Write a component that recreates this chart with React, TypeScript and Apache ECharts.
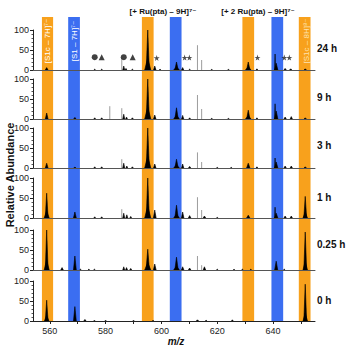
import React, { useEffect, useRef } from "react";
import * as echarts from "echarts";

// ---- data ----
const xMin = 554;
const xMax = 655;
const xTickValues = [560, 570, 580, 590, 600, 610, 620, 630, 640, 650];
const xLabelValues = [560, 580, 600, 620, 640];
const panelLabels = ["24 h", "9 h", "3 h", "1 h", "0.25 h", "0 h"];

// bands: [start m/z, end m/z, colour index 0=orange 1=blue]
const bandRanges = [
  [557.2, 561.2, 0],
  [566.6, 570.8, 1],
  [593.0, 597.2, 0],
  [603.0, 607.2, 1],
  [629.0, 633.2, 0],
  [639.4, 643.6, 1],
  [649.2, 653.4, 0],
];

// black peaks: [m/z, relative abundance, half width]
const peaks24h = [
  [558.9, 6, 0.5], [576.1, 2, 0.3], [578.6, 2, 0.3], [586.5, 10, 0.35], [587.3, 4, 0.3],
  [589.6, 2, 0.3], [595.1, 100, 0.55], [595.1, 30, 1.1], [597.6, 10, 0.45], [599.5, 2, 0.3],
  [605.4, 20, 0.6], [605.4, 8, 1.0], [607.6, 6, 0.4], [610.1, 2, 0.3], [618.0, 1.5, 0.3],
  [624.0, 1.5, 0.3], [631.1, 20, 0.6], [631.1, 8, 1.0], [634.2, 3, 0.3], [641.1, 17, 0.6],
  [640.7, 40, 0.15], [644.3, 4, 0.4], [646.3, 3, 0.4], [651.5, 3, 0.4],
];
const peaks9h = [
  [558.9, 15, 0.5], [569.0, 4, 0.4], [576.1, 3, 0.3], [578.6, 3, 0.3], [586.5, 12, 0.35],
  [587.5, 5, 0.3], [589.6, 3, 0.3], [595.1, 100, 0.55], [595.1, 30, 1.1], [597.6, 10, 0.45],
  [605.4, 28, 0.6], [605.4, 10, 1.0], [607.6, 9, 0.4], [610.1, 3, 0.3], [618.0, 1.5, 0.3],
  [624.0, 1.5, 0.3], [631.1, 22, 0.6], [631.1, 8, 1.0], [634.2, 3, 0.3], [641.1, 20, 0.6],
  [640.7, 38, 0.15], [644.3, 5, 0.4], [646.5, 6, 0.4], [651.5, 3, 0.4],
];
const peaks3h = [
  [558.9, 12, 0.5], [569.0, 2, 0.4], [576.1, 3, 0.3], [578.6, 3, 0.3], [586.5, 12, 0.35],
  [587.6, 5, 0.3], [589.6, 3, 0.3], [595.1, 100, 0.55], [595.1, 30, 1.1], [597.6, 10, 0.45],
  [605.4, 22, 0.6], [605.4, 8, 1.0], [607.6, 10, 0.4], [610.1, 4, 0.4], [620.0, 1.5, 0.3],
  [625.0, 1.5, 0.3], [631.1, 12, 0.6], [634.2, 3, 0.3], [641.1, 15, 0.6], [640.7, 25, 0.15],
  [644.3, 5, 0.4], [646.5, 5, 0.4], [651.5, 3, 0.4],
];
const peaks1h = [
  [558.9, 62, 0.5], [558.9, 18, 0.9], [569.0, 15, 0.5], [576.1, 3, 0.3], [578.6, 3, 0.3],
  [586.5, 12, 0.35], [587.6, 8, 0.35], [589.0, 4, 0.3], [595.1, 100, 0.55], [595.1, 30, 1.1],
  [597.6, 20, 0.5], [605.4, 32, 0.6], [605.4, 10, 1.0], [607.6, 15, 0.45], [610.1, 6, 0.45],
  [615.4, 5, 0.45], [620.0, 1.5, 0.3], [631.1, 7, 0.6], [641.1, 12, 0.6], [640.7, 27, 0.15],
  [644.3, 5, 0.4], [646.5, 5, 0.4], [651.5, 54, 0.5], [651.5, 15, 0.8],
];
const peaks025h = [
  [558.9, 100, 0.5], [558.9, 25, 0.9], [564.4, 6, 0.45], [569.0, 35, 0.5], [571.0, 2, 0.3],
  [574.0, 2, 0.3], [576.0, 2, 0.3], [586.5, 8, 0.35], [587.5, 6, 0.35], [589.0, 4, 0.35],
  [595.1, 52, 0.6], [595.1, 18, 1.1], [597.6, 15, 0.5], [605.4, 32, 0.6], [605.4, 10, 1.0],
  [607.6, 8, 0.45], [610.1, 5, 0.45], [615.4, 8, 0.45], [620.0, 2, 0.3], [626.0, 2, 0.3],
  [629.0, 2, 0.3], [632.0, 2, 0.3], [641.1, 22, 0.55], [644.0, 2, 0.3], [651.5, 95, 0.5],
  [651.5, 22, 0.8],
];
const peaks0h = [
  [558.9, 52, 0.5], [558.9, 14, 0.8], [569.0, 36, 0.5], [572.6, 4, 0.4], [576.0, 1, 0.3],
  [580.0, 1, 0.3], [590.0, 1, 0.3], [597.0, 1, 0.3], [612.9, 3, 0.4], [616.0, 2, 0.3],
  [625.4, 3, 0.3], [651.5, 92, 0.5], [651.5, 20, 0.8],
];

// grey sticks: [m/z, relative abundance]
const grey24h = [[585.8, 30], [612.9, 62], [614.4, 25]];
const grey9h = [[581.5, 32], [585.8, 27], [612.9, 60], [614.4, 25]];
const grey3h = [[585.8, 22], [612.9, 39], [614.4, 15]];
const grey1h = [[585.8, 22], [612.9, 52], [614.4, 20]];
const grey025h = [[612.9, 35], [614.4, 12]];
const grey0h = [];

// markers in the 24 h panel
const circleMarks = [[576.1, 32], [586.5, 32]];
const triangleMarks = [[578.6, 32], [589.7, 32]];
const starMarks = [[598.3, 30], [608.3, 31], [610.0, 31], [634.4, 31], [644.0, 31], [645.8, 31]];

const blackPeaks = [peaks24h, peaks9h, peaks3h, peaks1h, peaks025h, peaks0h];
const greyPeaks = [grey24h, grey9h, grey3h, grey1h, grey025h, grey0h];

// ---- layout ----
const panelTops = [30, 79, 128, 178, 230, 281];
const panelHeight = 40;
const gridLeft = 33;
const gridRight = 32;
const labelYs = [48, 97, 145, 197, 244, 300];
const ORANGE = "#F8A11C";
const BLUE = "#3B6EF1";
const FONT = "Liberation Sans, Arial, DejaVu Sans, sans-serif";

export default function App() {
  const ref = useRef<HTMLDivElement>(null);

  useEffect(() => {
    if (!ref.current) return;
    const chart = echarts.init(ref.current, undefined, { renderer: "svg" });

    const grids: any[] = [];
    const xAxes: any[] = [];
    const yAxes: any[] = [];
    const series: any[] = [];

    // band grid (index 0)
    grids.push({ left: gridLeft, right: gridRight, top: 17, height: 305 });
    xAxes.push({ gridIndex: 0, type: "value", min: xMin, max: xMax, show: false });
    yAxes.push({ gridIndex: 0, type: "value", min: 0, max: 1, show: false });
    series.push({
      type: "custom",
      xAxisIndex: 0,
      yAxisIndex: 0,
      z: 1,
      silent: true,
      data: bandRanges,
      renderItem: (params: any, api: any) => {
        const p0 = api.coord([api.value(0), 1]);
        const p1 = api.coord([api.value(1), 0]);
        return {
          type: "rect",
          shape: { x: p0[0], y: p0[1], width: p1[0] - p0[0], height: p1[1] - p0[1] },
          style: { fill: api.value(2) === 0 ? ORANGE : BLUE },
        };
      },
    });

    panelTops.forEach((top, i) => {
      const gi = i + 1;
      const last = i === panelTops.length - 1;
      grids.push({ left: gridLeft, right: gridRight, top, height: panelHeight });
      xAxes.push({
        gridIndex: gi,
        type: "value",
        min: xMin,
        max: xMax,
        z: 10,
        axisLine: { show: true, lineStyle: { color: last ? "#222" : "#555", width: 1 } },
        axisTick: last
          ? { show: true, customValues: xTickValues, length: 3, lineStyle: { color: "#222" } }
          : { show: false },
        axisLabel: last
          ? { show: true, customValues: xLabelValues, fontSize: 9, color: "#222", margin: 5, fontFamily: FONT }
          : { show: false },
        splitLine: { show: false },
      });
      yAxes.push({
        gridIndex: gi,
        type: "value",
        min: 0,
        max: 100,
        interval: 50,
        z: 10,
        axisLine: { show: true, lineStyle: { color: "#222", width: 1 } },
        axisTick: { show: true, length: 3, lineStyle: { color: "#222" } },
        minorTick: { show: true, splitNumber: 5, length: 1.5, lineStyle: { color: "#555" } },
        axisLabel: { fontSize: 9, color: "#222", margin: 4, fontFamily: FONT },
        splitLine: { show: false },
      });
      series.push({
        type: "custom",
        xAxisIndex: gi,
        yAxisIndex: gi,
        z: 4,
        silent: true,
        data: greyPeaks[i],
        renderItem: (params: any, api: any) => {
          const p0 = api.coord([api.value(0), 0]);
          const p1 = api.coord([api.value(0), api.value(1)]);
          return {
            type: "line",
            shape: { x1: p0[0], y1: p0[1], x2: p1[0], y2: p1[1] },
            style: { stroke: "#9c9c9c", lineWidth: 1 },
          };
        },
      });
      series.push({
        type: "custom",
        xAxisIndex: gi,
        yAxisIndex: gi,
        z: 5,
        silent: true,
        data: blackPeaks[i],
        renderItem: (params: any, api: any) => {
          const c = api.value(0);
          const h = api.value(1);
          const w = api.value(2);
          const a = api.coord([c - w, 0]);
          const b = api.coord([c, h]);
          const d = api.coord([c + w, 0]);
          return {
            type: "polygon",
            shape: { points: [a, b, d] },
            style: { fill: "#000", stroke: "#000", lineWidth: 0.6 },
          };
        },
      });
    });

    // markers on the 24 h panel
    series.push({
      type: "scatter",
      xAxisIndex: 1,
      yAxisIndex: 1,
      z: 6,
      symbol: "circle",
      symbolSize: 6,
      itemStyle: { color: "#111" },
      data: circleMarks,
    });
    series.push({
      type: "scatter",
      xAxisIndex: 1,
      yAxisIndex: 1,
      z: 6,
      symbol: "triangle",
      symbolSize: 6,
      itemStyle: { color: "#111" },
      data: triangleMarks,
    });
    series.push({
      type: "scatter",
      xAxisIndex: 1,
      yAxisIndex: 1,
      z: 6,
      symbol:
        "path://M50,0 L61,35 L98,35 L68,57 L79,91 L50,70 L21,91 L32,57 L2,35 L39,35 Z",
      symbolSize: 6,
      itemStyle: { color: "#222" },
      data: starMarks,
    });

    const graphic: any[] = [];
    const txt = (text: string, x: number, y: number, opts: any = {}) => ({
      type: "text",
      x,
      y,
      rotation: opts.rotation || 0,
      z: 20,
      style: {
        text,
        fill: opts.fill || "#111",
        fontSize: opts.fontSize || 9,
        fontWeight: opts.fontWeight || "bold",
        fontStyle: opts.fontStyle || "normal",
        fontFamily: FONT,
        textAlign: opts.align || "center",
        textVerticalAlign: "middle",
        opacity: opts.opacity == null ? 1 : opts.opacity,
      },
    });

    graphic.push(txt("[+ Ru(pta) – 9H]⁷⁻", 163, 11, { fontSize: 8 }));
    graphic.push(txt("[+ 2 Ru(pta) – 9H]⁷⁻", 258, 11, { fontSize: 8 }));
    panelLabels.forEach((l, i) => graphic.push(txt(l, 317, labelYs[i], { fontSize: 10, align: "left" })));
    graphic.push(txt("Relative Abundance", 10, 175, { fontSize: 11, rotation: Math.PI / 2 }));
    graphic.push(txt("m/z", 176, 341, { fontSize: 10, fontStyle: "italic" }));
    graphic.push(txt("[S1c – 7H]⁷⁻", 47.5, 41, { fontSize: 8, fontWeight: "normal", fill: "#fff", rotation: Math.PI / 2 }));
    graphic.push(txt("[S1 – 7H]⁷⁻", 74.5, 41, { fontSize: 8, fontWeight: "normal", fill: "#fff", rotation: Math.PI / 2 }));
    graphic.push(txt("[S1c – 8H]⁸⁻", 306, 41, { fontSize: 8, fontWeight: "normal", fill: "#fde3b0", rotation: Math.PI / 2 }));

    chart.setOption({
      animation: false,
      backgroundColor: "#fff",
      grid: grids,
      xAxis: xAxes,
      yAxis: yAxes,
      series,
      graphic,
    });

    return () => chart.dispose();
  }, []);

  return <div ref={ref} style={{ width: 347, height: 347, position: "absolute", left: 0, top: 0 }} />;
}
